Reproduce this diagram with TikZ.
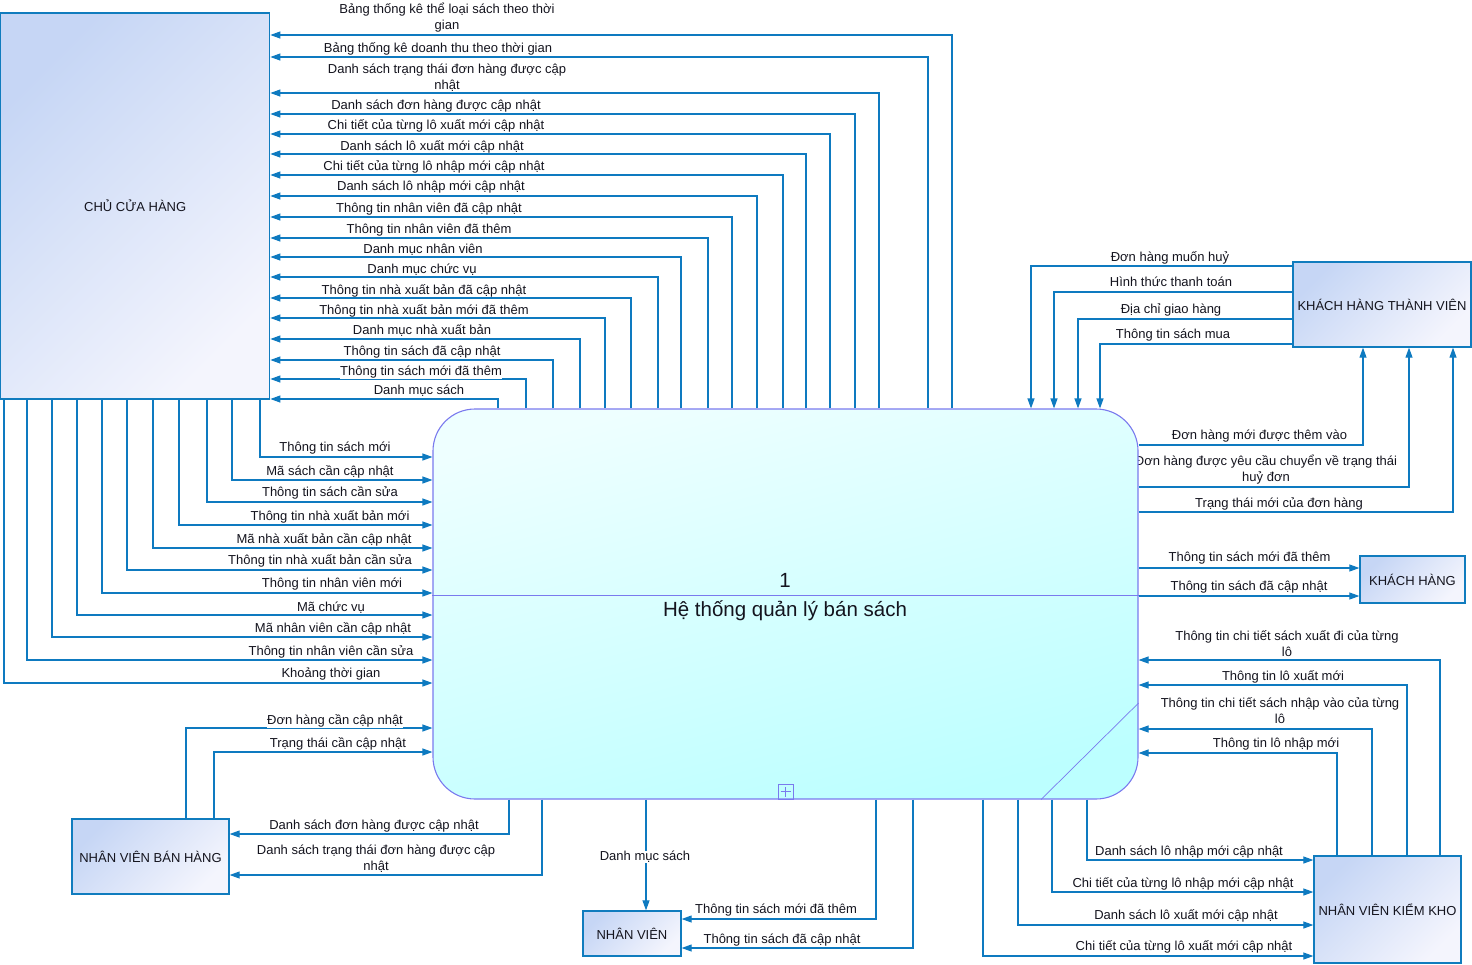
\documentclass[tikz,border=0pt]{standalone}
\usepackage{fontspec}
\setmainfont{Liberation Sans}
\usetikzlibrary{arrows.meta}
\definecolor{flowc}{RGB}{14,122,192}
\definecolor{procb}{RGB}{122,122,238}
\definecolor{procA}{RGB}{238,255,255}
\definecolor{procB}{RGB}{188,255,255}
\definecolor{entA}{RGB}{198,214,245}
\definecolor{entB}{RGB}{244,245,253}
\definecolor{entb}{RGB}{16,124,190}
\definecolor{txt}{RGB}{20,20,30}
\begin{document}
\begin{tikzpicture}[x=1pt,y=-1pt,
  flow/.style={draw=flowc, line width=1.1pt, -{Triangle[length=10pt,width=7pt]}},
  lbl/.style={font=\fontsize{13}{16}\selectfont, text=txt, fill=white, inner sep=0.6pt, align=center, anchor=base, yshift=-4.8pt},
  ent/.style={draw=entb, line width=1.3pt, top color=entA, bottom color=entB, shading angle=45, font=\fontsize{13}{16}\selectfont, text=txt, inner sep=0pt},
  title/.style={font=\fontsize{20.5}{24}\selectfont, text=txt, anchor=base, inner sep=0pt}
]
\useasboundingbox (0,0) rectangle (1472,964);
% external entities
\node[ent, minimum width=269pt, minimum height=386pt] (O) at (135.2,206) {CHỦ CỬA HÀNG};
\node[ent, minimum width=178pt, minimum height=85pt] (T) at (1382,304.5) {KHÁCH HÀNG THÀNH VIÊN};
\node[ent, minimum width=105pt, minimum height=47pt] (H) at (1412.5,579.5) {KHÁCH HÀNG};
\node[ent, minimum width=147pt, minimum height=107pt] (K) at (1387.5,909.5) {NHÂN VIÊN KIỂM KHO};
\node[ent, minimum width=98pt, minimum height=45pt] (N) at (632,933.5) {NHÂN VIÊN};
\node[ent, minimum width=157pt, minimum height=75pt] (B) at (150.5,856.5) {NHÂN VIÊN BÁN HÀNG};
% label partly hidden by the process
\node[lbl] (lhuy) at (1266,477) {Đơn hàng được yêu cầu chuyển về trạng thái\\huỷ đơn};
% process
\node[draw=procb, line width=1.1pt, rounded corners=42pt, top color=procA, bottom color=procB, shading angle=15, minimum width=705pt, minimum height=390pt, inner sep=0pt] (P) at (785.5,604) {};
\draw[procb, line width=0.9pt] (P.west |- 0,595.5) -- (P.east |- 0,595.5);
\draw[procb, line width=0.7pt] (P.east |- 0,703) -- (P.south -| 1041,0);
\node[title] (pnum) at (785,587.5) {1};
\node[title] (ptitle) at (785,616) {Hệ thống quản lý bán sách};
\node[draw=procb, line width=0.8pt, minimum size=15pt, inner sep=0pt] (plus) at (785.5,791.5) {};
\draw[procb, line width=0.8pt] ([xshift=-5pt]plus.center) -- ([xshift=5pt]plus.center) ([yshift=-5pt]plus.center) -- ([yshift=5pt]plus.center);
% flows to CHU CUA HANG
\foreach \x/\y in {952/35,928/57,879/93,855/114,830/134,806/154,783/175,757/196,732/217,708/238,681/257,658/277,631/298,605/318,580/339,553/360,526/379,498/399}
  \draw[flow] (P.north -| \x,0) |- (O.east |- 0,\y);
% flows from CHU CUA HANG
\foreach \x/\y in {260/457,232/480,207/502,179/525,153/548,127/570,102/593,77/615,52/637,27/660,4/683}
  \draw[flow] (O.south -| \x,0) |- (P.west |- 0,\y);
% NHAN VIEN BAN HANG
\draw[flow] (B.north -| 186,0) |- (P.west |- 0,728);
\draw[flow] (B.north -| 214,0) |- (P.west |- 0,752);
\draw[flow] (P.south -| 509,0) |- (B.east |- 0,834);
\draw[flow] (P.south -| 542,0) |- (B.east |- 0,875);
% NHAN VIEN
\draw[flow] (P.south -| 646,0) -- (N.north -| 646,0);
\draw[flow] (P.south -| 876,0) |- (N.east |- 0,919);
\draw[flow] (P.south -| 913,0) |- (N.east |- 0,948);
% NHAN VIEN KIEM KHO
\foreach \x/\y in {1087/860,1052/892,1018/925,983/956}
  \draw[flow] (P.south -| \x,0) |- (K.west |- 0,\y);
\foreach \x/\y in {1440/660,1407/685,1372/729,1337/753}
  \draw[flow] (K.north -| \x,0) |- (P.east |- 0,\y);
% KHACH HANG
\draw[flow] (P.east |- 0,568) -- (H.west |- 0,568);
\draw[flow] (P.east |- 0,596) -- (H.west |- 0,596);
% KHACH HANG THANH VIEN
\foreach \x/\y in {1031/266,1054/292,1078/319,1100/344}
  \draw[flow] (T.west |- 0,\y) -| (P.north -| \x,0);
\foreach \x/\y in {1363/445,1409/487,1453/512}
  \draw[flow] (P.east |- 0,\y) -| (T.south -| \x,0);
% labels, top
\node[lbl] (lt1) at (447,25) {Bảng thống kê thể loại sách theo thời\\gian};
\node[lbl] (lt3) at (447,84.3) {Danh sách trạng thái đơn hàng được cập\\nhật};
\foreach \cx/\cy/\t [count=\i] in {438/47.7/Bảng thống kê doanh thu theo thời gian,
  436/104.3/Danh sách đơn hàng được cập nhật,
  436/124.3/Chi tiết của từng lô xuất mới cập nhật,
  432/145.3/Danh sách lô xuất mới cập nhật,
  434/165.7/Chi tiết của từng lô nhập mới cập nhật,
  431/186/Danh sách lô nhập mới cập nhật,
  429/207.3/Thông tin nhân viên đã cập nhật,
  429/228.3/Thông tin nhân viên đã thêm,
  423/248.3/Danh mục nhân viên,
  422/269/Danh mục chức vụ,
  424/289.3/Thông tin nhà xuất bản đã cập nhật,
  424/309.3/Thông tin nhà xuất bản mới đã thêm,
  422/330/Danh mục nhà xuất bản,
  422/350.7/Thông tin sách đã cập nhật,
  421/370.7/Thông tin sách mới đã thêm,
  419/389.3/Danh mục sách}
  \node[lbl] (ls\i) at (\cx,\cy) {\t};
% labels, left
\foreach \cx/\cy/\t [count=\i] in {335/447/Thông tin sách mới,
  330/471/Mã sách cần cập nhật,
  330/492/Thông tin sách cần sửa,
  330/516/Thông tin nhà xuất bản mới,
  324/539/Mã nhà xuất bản cần cập nhật,
  320/560/Thông tin nhà xuất bản cần sửa,
  332/583/Thông tin nhân viên mới,
  331/607/Mã chức vụ,
  333/628/Mã nhân viên cần cập nhật,
  331/651/Thông tin nhân viên cần sửa,
  331/673/Khoảng thời gian,
  335/720/Đơn hàng cần cập nhật,
  338/743/Trạng thái cần cập nhật,
  374/825/Danh sách đơn hàng được cập nhật}
  \node[lbl] (ll\i) at (\cx,\cy) {\t};
\node[lbl] (lbh) at (376,866) {Danh sách trạng thái đơn hàng được cập\\nhật};
% labels, bottom
\foreach \cx/\cy/\t [count=\i] in {645/856/Danh mục sách,
  776/909/Thông tin sách mới đã thêm,
  782/939/Thông tin sách đã cập nhật,
  1189/851/Danh sách lô nhập mới cập nhật,
  1183/883/Chi tiết của từng lô nhập mới cập nhật,
  1186/915/Danh sách lô xuất mới cập nhật,
  1184/946/Chi tiết của từng lô xuất mới cập nhật}
  \node[lbl] (lb\i) at (\cx,\cy) {\t};
% labels, right
\node[lbl] (lr1) at (1287,652) {Thông tin chi tiết sách xuất đi của từng\\lô};
\node[lbl] (lr3) at (1280,719) {Thông tin chi tiết sách nhập vào của từng\\lô};
\foreach \cx/\cy/\t [count=\i] in {1283/676/Thông tin lô xuất mới,
  1276/743/Thông tin lô nhập mới,
  1249.5/557/Thông tin sách mới đã thêm,
  1249/586/Thông tin sách đã cập nhật,
  1170/257/Đơn hàng muốn huỷ,
  1171/282/Hình thức thanh toán,
  1171/309/Địa chỉ giao hàng,
  1173/334/Thông tin sách mua,
  1259.5/435/Đơn hàng mới được thêm vào,
  1279/503/Trạng thái mới của đơn hàng}
  \node[lbl] (lx\i) at (\cx,\cy) {\t};
\end{tikzpicture}
\end{document}
